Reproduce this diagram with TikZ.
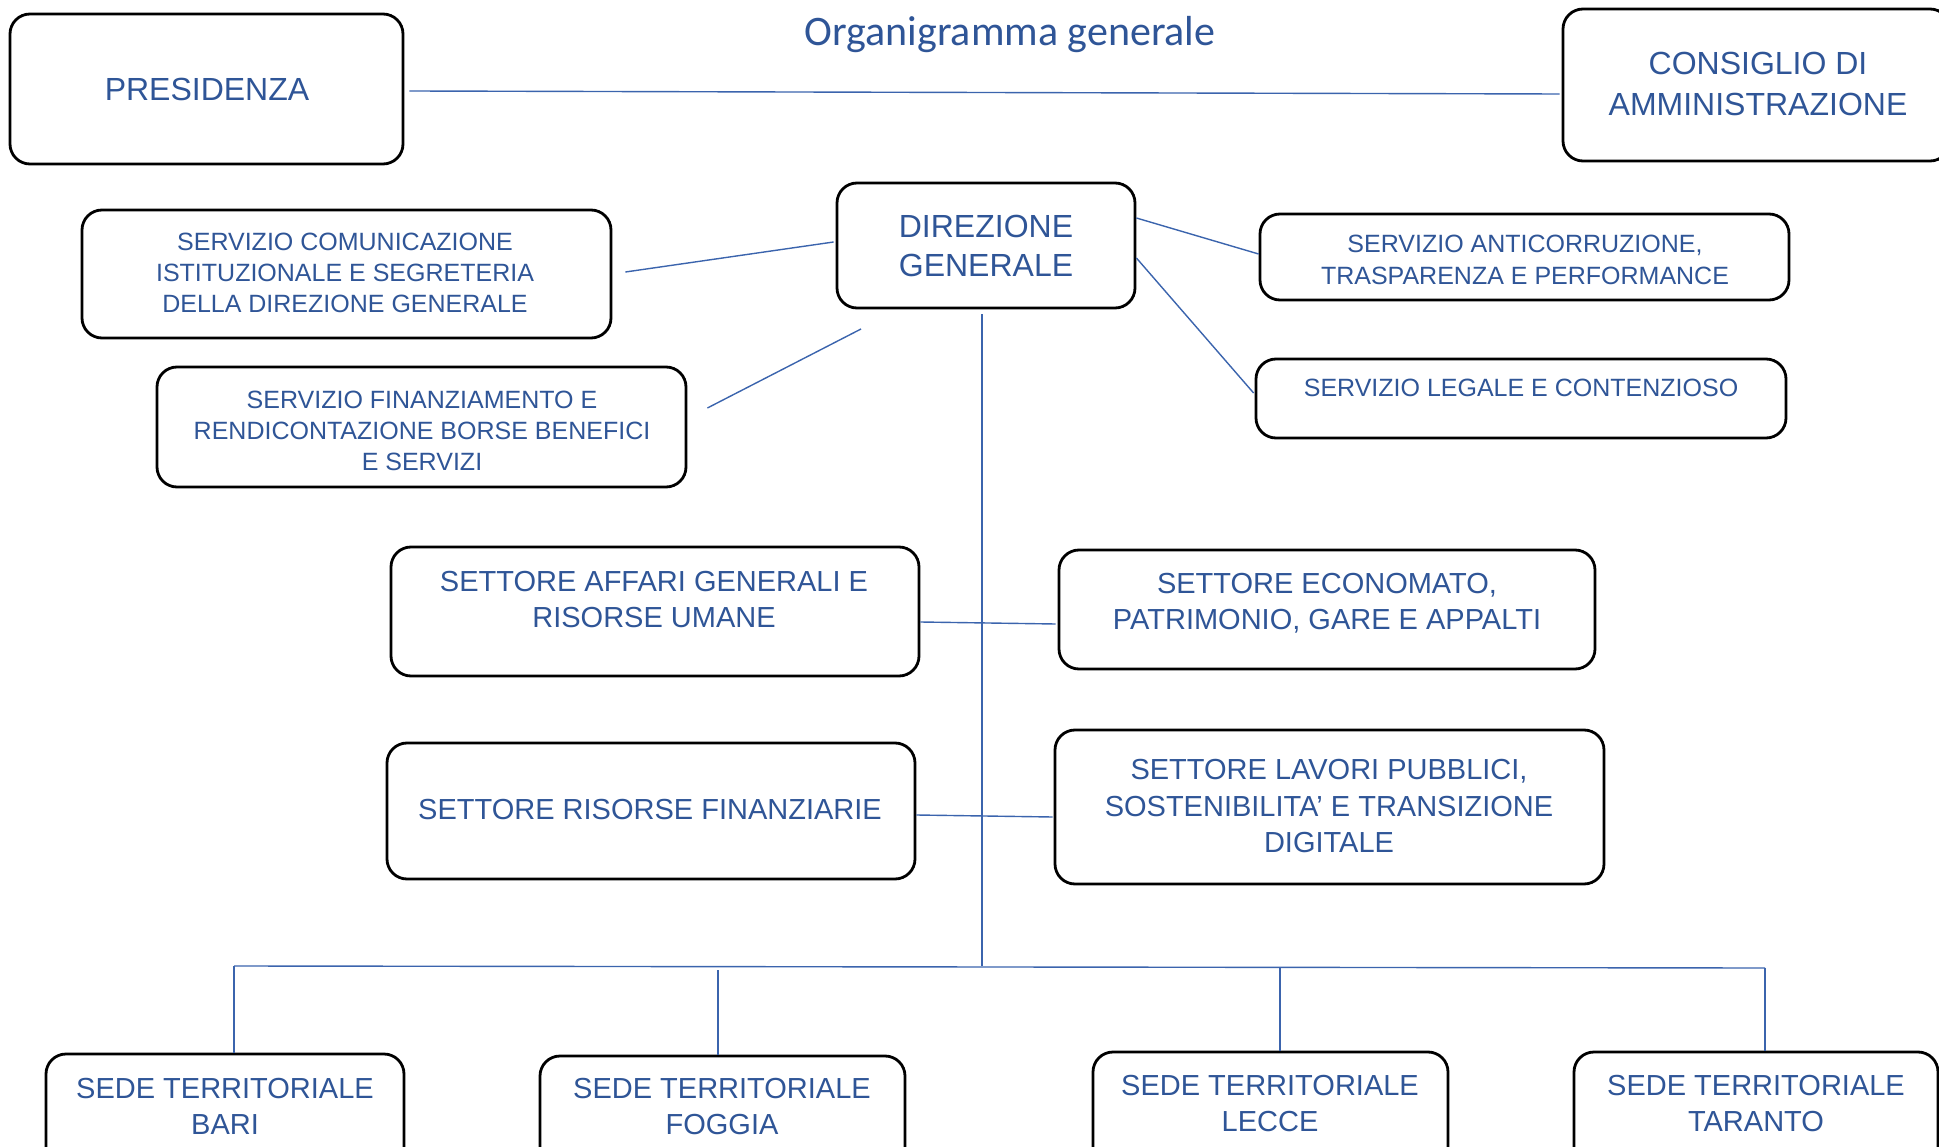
\documentclass[tikz,border=0pt]{standalone}
\usepackage{fontspec}
\setmainfont{Liberation Sans}
\newfontfamily\titlefont{Carlito}
\definecolor{orgtext}{RGB}{47,85,151}
\definecolor{orgline}{RGB}{59,100,173}

\begin{document}
\begin{tikzpicture}[x=1pt,y=-1pt,
  box/.style={draw=black, line width=2.8pt, rounded corners=20pt, inner sep=0pt, fill=white},
  lbl/.style={text=orgtext, align=center, inner sep=0pt},
  big/.style={font=\fontsize{32}{39}\selectfont},
  mid/.style={font=\fontsize{29}{36}\selectfont},
  small/.style={font=\fontsize{25}{31}\selectfont},
  link/.style={draw=orgline, line width=1.4pt},
  ]
\useasboundingbox (0,0) rectangle (1939,1147);
\clip (0,0) rectangle (1939,1147);

% title
\node[lbl, anchor=base, font=\titlefont\fontsize{42}{50}\selectfont] (title) at (1010,46) {Organigramma generale};

% top level
\node[box, minimum width=393pt, minimum height=150pt] (pres) at (206.5,89) {};
\node[lbl, big] (pres-t) at (207,89) {PRESIDENZA};
\node[box, minimum width=387pt, minimum height=152pt] (cons) at (1756.5,85) {};
\node[lbl, font=\fontsize{32}{41}\selectfont] (cons-t) at (1758,84) {CONSIGLIO DI\\AMMINISTRAZIONE};

% direzione generale and staff services
\node[box, minimum width=298pt, minimum height=125pt] (dg) at (986,245.5) {};
\node[lbl, big] (dg-t) at (986,245.5) {DIREZIONE\\GENERALE};

\node[box, minimum width=529pt, minimum height=128pt] (comm) at (346.5,274) {};
\node[lbl, small] (comm-t) at (345,273) {SERVIZIO COMUNICAZIONE\\ISTITUZIONALE E SEGRETERIA\\DELLA DIREZIONE GENERALE};
\node[box, minimum width=529pt, minimum height=120pt] (fin) at (421.5,427) {};
\node[lbl, small] (fin-t) at (422,430.5) {SERVIZIO FINANZIAMENTO E\\RENDICONTAZIONE BORSE BENEFICI\\E SERVIZI};
\node[box, minimum width=529pt, minimum height=86pt] (anti) at (1524.5,257) {};
\node[lbl, font=\fontsize{25}{32}\selectfont] (anti-t) at (1525,260) {SERVIZIO ANTICORRUZIONE,\\TRASPARENZA E PERFORMANCE};
\node[box, minimum width=530pt, minimum height=79pt] (leg) at (1521,398.5) {};
\node[lbl, small] (leg-t) at (1521,388) {SERVIZIO LEGALE E CONTENZIOSO};

% settori
\node[box, minimum width=528pt, minimum height=129pt] (aff) at (655,611.5) {};
\node[lbl, mid] (aff-t) at (654,600) {SETTORE AFFARI GENERALI E\\RISORSE UMANE};
\node[box, minimum width=536pt, minimum height=119pt] (eco) at (1327,609.5) {};
\node[lbl, mid] (eco-t) at (1327,603) {SETTORE ECONOMATO,\\PATRIMONIO, GARE E APPALTI};
\node[box, minimum width=528pt, minimum height=136pt] (ris) at (651,811) {};
\node[lbl, mid] (ris-t) at (650,810) {SETTORE RISORSE FINANZIARIE};
\node[box, minimum width=549pt, minimum height=154pt] (lav) at (1329.5,807) {};
\node[lbl, font=\fontsize{29}{36.5}\selectfont] (lav-t) at (1329,806.5) {SETTORE LAVORI PUBBLICI,\\SOSTENIBILITA' E TRANSIZIONE\\DIGITALE};

% sedi territoriali
\node[box, minimum width=358pt, minimum height=126pt] (bari) at (225,1117) {};
\node[lbl, mid] (bari-t) at (225,1106) {SEDE TERRITORIALE\\BARI};
\node[box, minimum width=365pt, minimum height=124pt] (fog) at (722.5,1118) {};
\node[lbl, mid] (fog-t) at (722,1107) {SEDE TERRITORIALE\\FOGGIA};
\node[box, minimum width=355pt, minimum height=128pt] (lec) at (1270.5,1116) {};
\node[lbl, mid] (lec-t) at (1270,1104) {SEDE TERRITORIALE\\LECCE};
\node[box, minimum width=364pt, minimum height=128pt] (tar) at (1756,1116) {};
\node[lbl, mid] (tar-t) at (1756,1104) {SEDE TERRITORIALE\\TARANTO};

% connectors
\draw[link] ([xshift=5pt,yshift=-2pt]pres.east) -- ([xshift=-2pt,yshift=-9pt]cons.west);
\draw[link] ([xshift=13pt,yshift=2pt]comm.east) -- ([xshift=-2pt,yshift=3.5pt]dg.west);
\coordinate (finend) at (861,329);
\draw[link] ([xshift=20pt,yshift=19pt]fin.east) -- (finend);
\draw[link] ([yshift=27.5pt]dg.east) -- ([yshift=3pt]anti.west);
\draw[link] ([yshift=-12.5pt]dg.east) -- ([xshift=-1pt,yshift=5.5pt]leg.west);

\coordinate (busL) at (234,966);
\coordinate (busM) at (982,966);
\coordinate (busR) at (1765,968);
\coordinate (fogtap) at (718,970);
\coordinate (lectap) at (1280,967);
\draw[link] ([xshift=-4pt,yshift=-5pt]dg.south) -- (busM);
\draw[link] ([yshift=-10.5pt]aff.east) -- ([xshift=-2pt,yshift=-14.5pt]eco.west);
\draw[link] ([yshift=-4pt]ris.east) -- ([xshift=-1pt,yshift=-10pt]lav.west);
\draw[link] (busL) -- (busR);
\draw[link] (busL) -- ([xshift=9pt]bari.north);
\draw[link] (fogtap) -- ([xshift=-4.5pt]fog.north);
\draw[link] (lectap) -- ([xshift=9.5pt]lec.north);
\draw[link] (busR) -- ([xshift=9pt]tar.north);
\end{tikzpicture}
\end{document}
